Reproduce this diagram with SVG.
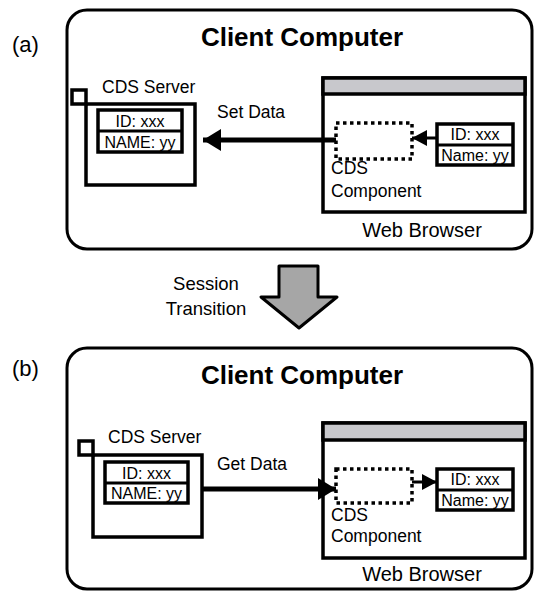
<svg xmlns="http://www.w3.org/2000/svg" width="535" height="592" viewBox="0 0 535 592">
<style>
text{font-family:"Liberation Sans",Arial,sans-serif;fill:#000}
.panel{fill:#fff;stroke:#000;stroke-width:3}
.box{fill:#fff;stroke:#000;stroke-width:3.5}
.tbl{fill:#fff;stroke:#000;stroke-width:3.5}
.bar{fill:#c8c8cc;stroke:#000;stroke-width:3.5}
.dot{fill:none;stroke:#000;stroke-width:3.5;stroke-dasharray:3.5 3.5}
.title{font-size:26px;font-weight:bold;text-anchor:middle}
.lab{font-size:17.5px}
.cell{font-size:16px;text-anchor:middle}
.big{font-size:22px}
.wb{font-size:20px;text-anchor:middle}
.thick{stroke:#000;stroke-width:5;fill:none}
.thin{stroke:#000;stroke-width:3;fill:none}
</style>
<defs>
<marker id="ah" viewBox="0 0 18 22" refX="18" refY="11" markerWidth="18" markerHeight="22" markerUnits="userSpaceOnUse" orient="auto">
<path d="M0,0 L18,11 L0,22 Z" fill="#000"/>
</marker>
<marker id="ahs" viewBox="0 0 15 16" refX="15" refY="8" markerWidth="15" markerHeight="16" markerUnits="userSpaceOnUse" orient="auto">
<path d="M0,0 L15,8 L0,16 Z" fill="#000"/>
</marker>
</defs>

<g id="panel-a">
<rect class="panel" x="67" y="10" width="465" height="239" rx="20"/>
<text class="big" x="12" y="52">(a)</text>
<text class="title" x="302" y="46">Client Computer</text>
</g>
<g id="server-a">
<text class="lab" x="102" y="93">CDS Server</text>
<rect class="box" x="86" y="104" width="109" height="81"/>
<rect class="box" x="72" y="90" width="14" height="14"/>
<rect class="tbl" x="98" y="110" width="84" height="42"/>
<line x1="98" y1="131" x2="182" y2="131" stroke="#000" stroke-width="3"/>
<text class="cell" x="140" y="127">ID: xxx</text>
<text class="cell" x="140" y="148">NAME: yy</text>
</g>
<g id="browser-a">
<rect class="box" x="323" y="78" width="202" height="134"/>
<rect class="bar" x="323" y="78" width="202" height="16"/>
<text class="wb" x="422" y="237">Web Browser</text>
</g>
<g id="component-a">
<rect class="dot" x="336" y="123" width="76" height="36"/>
<text class="lab" x="331" y="174">CDS</text>
<text class="lab" x="331" y="197">Component</text>
</g>
<g id="data-a">
<rect class="tbl" x="437" y="124" width="76" height="41"/>
<line x1="437" y1="145" x2="513" y2="145" stroke="#000" stroke-width="3"/>
<text class="cell" x="475" y="140">ID: xxx</text>
<text class="cell" x="475" y="161">Name: yy</text>
</g>

<g id="transition">
<polygon points="279,266 318,266 318,297 337,297 299,328 261,297 279,297" fill="#a6a6a6" stroke="#000" stroke-width="3" stroke-linejoin="round"/>
<text style="font-size:18.5px;text-anchor:middle" x="206" y="290">Session</text>
<text style="font-size:18.5px;text-anchor:middle" x="206" y="315">Transition</text>
</g>

<g id="panel-b">
<rect class="panel" x="67" y="348" width="465" height="241" rx="20"/>
<text class="big" x="12" y="376">(b)</text>
<text class="title" x="302" y="384">Client Computer</text>
</g>
<g id="server-b">
<text class="lab" x="108" y="443">CDS Server</text>
<rect class="box" x="93" y="455" width="109" height="82"/>
<rect class="box" x="79" y="441" width="14" height="14"/>
<rect class="tbl" x="105" y="462" width="83" height="41"/>
<line x1="105" y1="483" x2="188" y2="483" stroke="#000" stroke-width="3"/>
<text class="cell" x="146.5" y="479">ID: xxx</text>
<text class="cell" x="146.5" y="499">NAME: yy</text>
</g>
<g id="browser-b">
<rect class="box" x="323" y="423" width="202" height="135"/>
<rect class="bar" x="323" y="423" width="202" height="17"/>
<text class="wb" x="422" y="581">Web Browser</text>
</g>
<g id="component-b">
<rect class="dot" x="336" y="469" width="76" height="34"/>
<text class="lab" x="331" y="521">CDS</text>
<text class="lab" x="331" y="542">Component</text>
</g>
<g id="data-b">
<rect class="tbl" x="437" y="469" width="76" height="41"/>
<line x1="437" y1="490" x2="513" y2="490" stroke="#000" stroke-width="3"/>
<text class="cell" x="475" y="485">ID: xxx</text>
<text class="cell" x="475" y="506">Name: yy</text>
</g>

<g id="connectors">
<line class="thick" x1="336" y1="140" x2="203" y2="140" marker-end="url(#ah)"/>
<text class="lab" x="217" y="118">Set Data</text>
<line class="thin" x1="437" y1="138" x2="412" y2="138" marker-end="url(#ahs)"/>
<line class="thick" x1="202" y1="489" x2="336" y2="489" marker-end="url(#ah)"/>
<text class="lab" x="217" y="470">Get Data</text>
<line class="thin" x1="412" y1="482" x2="437" y2="482" marker-end="url(#ahs)"/>
</g>
</svg>
